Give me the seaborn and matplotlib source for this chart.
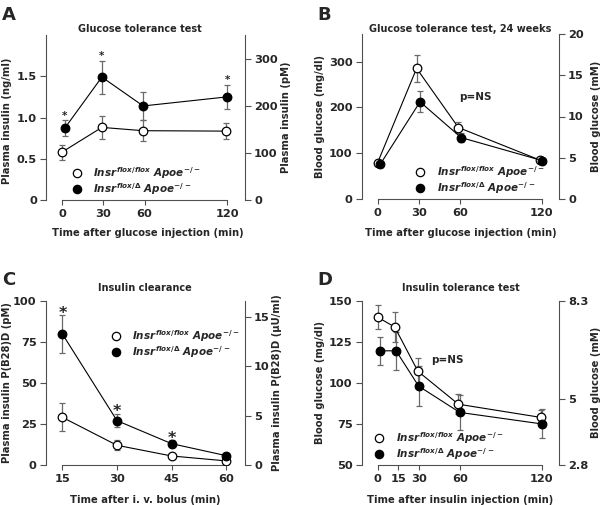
import numpy as np
import pandas as pd
import matplotlib
matplotlib.use('Agg')
import matplotlib.pyplot as plt
from matplotlib.lines import Line2D
import seaborn as sns

sns.set_style('ticks')
plt.rcParams['font.family'] = ['DejaVu Sans']
plt.rcParams['font.weight'] = 'bold'
plt.rcParams['axes.labelweight'] = 'bold'
plt.rcParams['mathtext.fontset'] = 'custom'
plt.rcParams['mathtext.it'] = 'DejaVu Sans:italic:bold'
plt.rcParams['mathtext.rm'] = 'DejaVu Sans:bold'

GRAY = '#505050'
ERR = '#6a6a6a'

LABEL_FF = r'$Insr^{flox/flox}\ Apoe^{-/-}$'
LABEL_FD = r'$Insr^{flox/\Delta}\ Apoe^{-/-}$'

# A - glucose tolerance test, plasma insulin (ng/ml)
a_x_ff = [0, 29, 59, 119]
a_y_ff = [0.58, 0.88, 0.84, 0.835]
a_e_ff = [0.09, 0.14, 0.13, 0.10]
a_x_fd = [2, 29, 59, 120]
a_y_fd = [0.87, 1.49, 1.14, 1.25]
a_e_fd = [0.10, 0.20, 0.17, 0.15]
a_star = [0, 1, 3]

# B - glucose tolerance test 24 weeks, blood glucose (mg/dl)
b_x_ff = [0, 28.5, 59, 118.5]
b_y_ff = [79, 285, 156, 85]
b_e_ff = [6, 30, 13, 4]
b_x_fd = [2, 31, 61, 120]
b_y_fd = [76, 212, 134, 84]
b_e_fd = [7, 23, 10, 4]

# C - insulin clearance, P(B28)D (pM)
c_x = [15, 30, 45, 60]
c_y_ff = [29, 12, 5.5, 2.5]
c_e_ff = [8.5, 3, 1.5, 1]
c_y_fd = [79.7, 27, 13, 5.7]
c_e_fd = [11.3, 4, 2, 1]
c_star = [0, 1, 2]

# D - insulin tolerance test, blood glucose (mg/dl)
d_x_ff = [0, 12.5, 29.5, 59, 119]
d_y_ff = [140, 134, 107, 87, 79]
d_e_ff = [7.5, 9, 8, 6, 4.5]
d_x_fd = [2, 13.5, 30, 60, 120]
d_y_fd = [119.5, 119.5, 98, 82, 75]
d_e_fd = [8.5, 11.5, 12, 10.5, 8.8]


def draw_series(ax, x, y, e, face):
    ax.errorbar(x, y, yerr=e, fmt='none', ecolor=ERR, elinewidth=0.9,
                capsize=2.2, capthick=0.9, zorder=1.5)
    sns.lineplot(x=x, y=y, ax=ax, color='black', lw=0.8, marker='o',
                 markersize=6.2, markerfacecolor=face, markeredgecolor='black',
                 markeredgewidth=0.9, zorder=3)


def style_axes(ax, tw, xticks, yticks, ylabels, rticks, rlabels):
    for s in ['top', 'right']:
        ax.spines[s].set_visible(False)
    for s in ['top', 'left', 'bottom']:
        tw.spines[s].set_visible(False)
    for sp in [ax.spines['left'], ax.spines['bottom'], tw.spines['right']]:
        sp.set_color(GRAY)
        sp.set_linewidth(0.8)
    ax.spines['bottom'].set_bounds(xticks[0], xticks[-1])
    ax.set_xticks(xticks)
    ax.set_xticklabels([str(t) for t in xticks])
    ax.set_yticks(yticks)
    ax.set_yticklabels(ylabels)
    tw.set_yticks(rticks)
    tw.set_yticklabels(rlabels)
    ax.tick_params(axis='x', length=3.8, width=0.8, color=GRAY, labelsize=8.2, pad=2.5)
    ax.tick_params(axis='y', length=4.5, width=0.8, color=GRAY, labelsize=8.2, pad=2)
    tw.tick_params(axis='y', length=4.5, width=0.8, color=GRAY, labelsize=8.2, pad=2)


def add_legend(ax, x, y):
    handles = [Line2D([], [], ls='none', marker='o', ms=6, mfc='white', mec='black', mew=0.9),
               Line2D([], [], ls='none', marker='o', ms=6, mfc='black', mec='black', mew=0.9)]
    ax.legend(handles, [LABEL_FF, LABEL_FD], loc='center left', bbox_to_anchor=(x, y),
              frameon=False, fontsize=7.5, handlelength=1.0, handletextpad=1.1,
              labelspacing=0.0, borderpad=0, borderaxespad=0)


fig = plt.figure(figsize=(6, 5.05), dpi=100)
W, H = 600, 505


def make_axes(left, right, top, bottom):
    return fig.add_axes([left / W, (H - bottom) / H, (right - left) / W, (bottom - top) / H])


# ---- A ----
ax = make_axes(46, 245, 35, 200)
tw = ax.twinx()
draw_series(ax, a_x_ff, a_y_ff, a_e_ff, 'white')
draw_series(ax, a_x_fd, a_y_fd, a_e_fd, 'black')
for i in a_star:
    ax.annotate('*', xy=(a_x_fd[i], a_y_fd[i] + a_e_fd[i]), xytext=(0, 3),
                textcoords='offset points', ha='center', va='center', fontsize=7.5)
ax.set_xlim(-11.6, 133)
ax.set_ylim(0, 2.0)
tw.set_ylim(0, 350)
style_axes(ax, tw, [0, 30, 60, 120], [0, 0.5, 1.0, 1.5], ['0', '0.5', '1.0', '1.5'],
           [0, 100, 200, 300], ['0', '100', '200', '300'])
ax.set_ylabel('Plasma insulin (ng/ml)', fontsize=7.2)
ax.yaxis.set_label_coords(-0.172, 0.48)
tw.set_ylabel('Plasma insulin (pM)', fontsize=7.2)
tw.yaxis.set_label_coords(1.181, 0.5)
ax.set_xlabel('Time after glucose injection (min)', fontsize=7.2)
ax.xaxis.set_label_coords(0.51, -0.17)
ax.text(0.472, 1.018, 'Glucose tolerance test', transform=ax.transAxes,
        ha='center', va='baseline', fontsize=7)
add_legend(ax, 0.128, 0.115)

# ---- B ----
ax = make_axes(361.7, 559, 34, 199)
tw = ax.twinx()
draw_series(ax, b_x_ff, b_y_ff, b_e_ff, 'white')
draw_series(ax, b_x_fd, b_y_fd, b_e_fd, 'black')
ax.set_xlim(-11.6, 132.5)
ax.set_ylim(0, 360)
tw.set_ylim(0, 20)
style_axes(ax, tw, [0, 30, 60, 120], [0, 100, 200, 300], ['0', '100', '200', '300'],
           [0, 5, 10, 15, 20], ['0', '5', '10', '15', '20'])
ax.set_ylabel('Blood glucose (mg/dl)', fontsize=7.2)
ax.yaxis.set_label_coords(-0.186, 0.5)
tw.set_ylabel('Blood glucose (mM)', fontsize=7.2)
tw.yaxis.set_label_coords(1.162, 0.5)
ax.set_xlabel('Time after glucose injection (min)', fontsize=7.2)
ax.xaxis.set_label_coords(0.5, -0.176)
ax.text(0.5, 1.012, 'Glucose tolerance test, 24 weeks', transform=ax.transAxes,
        ha='center', va='baseline', fontsize=7)
ax.text(71.4, 222, 'p=NS', ha='center', va='center', fontsize=7.5)
add_legend(ax, 0.27, 0.115)

# ---- C ----
ax = make_axes(45.7, 245, 300.7, 465)
tw = ax.twinx()
draw_series(ax, c_x, c_y_ff, c_e_ff, 'white')
draw_series(ax, c_x, c_y_fd, c_e_fd, 'black')
for i in c_star:
    ax.annotate('*', xy=(c_x[i], c_y_fd[i] + c_e_fd[i]), xytext=(0, 1.5),
                textcoords='offset points', ha='center', va='center', fontsize=11.5)
ax.set_xlim(10.4, 65.2)
ax.set_ylim(0, 100)
tw.set_ylim(0, 100 / 6)
style_axes(ax, tw, [15, 30, 45, 60], [0, 25, 50, 75, 100], ['0', '25', '50', '75', '100'],
           [0, 5, 10, 15], ['0', '5', '10', '15'])
ax.set_ylabel('Plasma insulin P(B28)D (pM)', fontsize=7.2)
ax.yaxis.set_label_coords(-0.171, 0.5)
tw.set_ylabel('Plasma insulin P(B28)D (\u00b5U/ml)', fontsize=7.2)
tw.yaxis.set_label_coords(1.134, 0.5)
ax.set_xlabel('Time after i. v. bolus (min)', fontsize=7.2)
ax.xaxis.set_label_coords(0.5, -0.183)
ax.text(0.496, 1.061, 'Insulin clearance', transform=ax.transAxes,
        ha='center', va='baseline', fontsize=7)
add_legend(ax, 0.325, 0.736)

# ---- D ----
ax = make_axes(361.7, 559, 300.7, 465)
tw = ax.twinx()
draw_series(ax, d_x_ff, d_y_ff, d_e_ff, 'white')
draw_series(ax, d_x_fd, d_y_fd, d_e_fd, 'black')
ax.set_xlim(-11.6, 132.5)
ax.set_ylim(50, 150)
tw.set_ylim(50 / 18, 150 / 18)
style_axes(ax, tw, [0, 15, 30, 60, 120], [50, 75, 100, 125, 150],
           ['50', '75', '100', '125', '150'], [50 / 18, 5, 150 / 18], ['2.8', '5', '8.3'])
ax.set_ylabel('Blood glucose (mg/dl)', fontsize=7.2)
ax.yaxis.set_label_coords(-0.186, 0.5)
tw.set_ylabel('Blood glucose (mM)', fontsize=7.2)
tw.yaxis.set_label_coords(1.162, 0.5)
ax.set_xlabel('Time after insulin injection (min)', fontsize=7.2)
ax.xaxis.set_label_coords(0.5, -0.183)
ax.text(0.501, 1.061, 'Insulin tolerance test', transform=ax.transAxes,
        ha='center', va='baseline', fontsize=7)
ax.text(51.2, 113.9, 'p=NS', ha='center', va='center', fontsize=7.5)
add_legend(ax, 0.061, 0.115)

for letter, x, y in [('A', 2, 20), ('B', 317, 20), ('C', 2, 285), ('D', 317, 285)]:
    fig.text(x / W, (H - y) / H, letter, fontsize=13, fontweight='bold', va='baseline')

fig.savefig('out.png', dpi=100)
